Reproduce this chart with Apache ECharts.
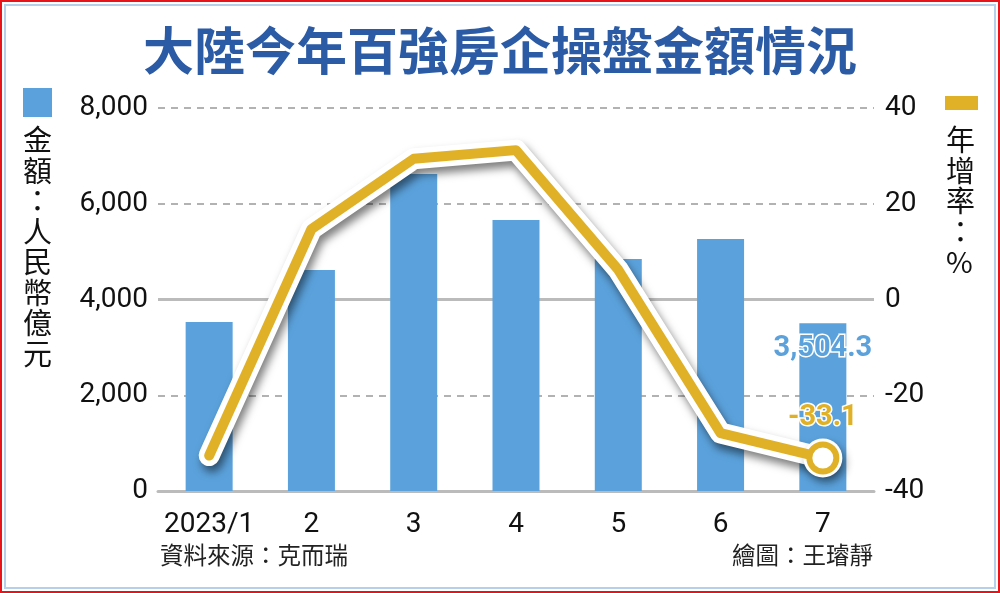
<!DOCTYPE html>
<html>
<head>
<meta charset="utf-8">
<script src="https://cdn.jsdelivr.net/npm/echarts@6/dist/echarts.min.js"></script>
<style>
  html, body { margin: 0; padding: 0; background: #fff; }
  #main { width: 1000px; height: 593px; }
</style>
</head>
<body>
<div id="main"></div>
<script>
// 月份
var months = ["2023/1", "2", "3", "4", "5", "6", "7"];
// 金額：人民幣億元
var amount = [3530, 4615, 6620, 5660, 4845, 5265, 3504.3];
// 年增率：%
var growth = [-32.6, 14.7, 29.4, 31.2, 6.2, -27.9, -33.1];
// 刻度
var leftTicks = [0, 2000, 4000, 6000, 8000];
var rightTicks = [-40, -20, 0, 20, 40];

var blue = "#5ba2dc";
var gold = "#e0b127";
var cjk = '"Noto Sans CJK TC", "Noto Sans CJK SC", sans-serif';
var num = 'Roboto, "Noto Sans", sans-serif';

(function () {
  var myChart = echarts.init(document.getElementById("main"));
  var last = months.length - 1;

  // 金額柱，最後一根加標籤
  var barData = amount.map(function (v, i) {
    if (i !== last) return v;
    return {
      value: v,
      label: {
        show: true,
        position: "insideTop",
        distance: 11,
        formatter: function (p) {
          return p.value.toLocaleString("en-US", { minimumFractionDigits: 1 });
        },
        color: blue,
        fontSize: 29,
        fontWeight: "bold",
        fontFamily: num,
        textBorderColor: "#fff",
        textBorderWidth: 3,
      },
    };
  });

  // 年增率線，最後一點畫空心圈
  var lineData = growth.map(function (v, i) {
    if (i !== last) return v;
    return {
      value: v,
      symbol: "circle",
      symbolSize: 27,
      itemStyle: { color: "#fff", borderColor: gold, borderWidth: 6 },
      label: {
        show: true,
        position: "top",
        distance: 9,
        formatter: "{c}",
        color: gold,
        fontSize: 29,
        fontWeight: "bold",
        fontFamily: num,
        textBorderColor: "#fff",
        textBorderWidth: 3,
      },
    };
  });
  // 白色外框 + 陰影
  var outlineData = growth.map(function (v, i) {
    if (i !== last) return v;
    return {
      value: v,
      symbol: "circle",
      symbolSize: 39,
      itemStyle: {
        color: "#fff",
        shadowBlur: 8,
        shadowColor: "rgba(0,0,0,0.45)",
        shadowOffsetX: 3,
        shadowOffsetY: 5,
      },
    };
  });

  var clear = "rgba(0,0,0,0)";

  var option = {
    animation: false,
    backgroundColor: "#fff",
    title: {
      text: "大陸今年百強房企操盤金額情況",
      left: "center",
      top: 20,
      textStyle: {
        color: "#2c5ba6",
        fontSize: 51,
        fontWeight: "bold",
        fontFamily: cjk,
      },
    },
    grid: { left: 158, right: 126, top: 108, bottom: 102 },
    xAxis: {
      type: "category",
      data: months,
      axisLine: { lineStyle: { color: "#bbb", width: 3 } },
      axisTick: { alignWithLabel: true, length: 8, lineStyle: { color: "#bbb", width: 3 } },
      axisLabel: { color: "#111", fontSize: 28, fontFamily: num, margin: 20, interval: 0 },
    },
    yAxis: [
      {
        type: "value",
        min: 0,
        max: 8000,
        interval: 2000,
        axisLine: { show: false },
        axisTick: { show: false },
        axisLabel: {
          color: "#111",
          fontSize: 28,
          fontFamily: num,
          margin: 10,
          formatter: function (v) { return v.toLocaleString("en-US"); },
        },
        splitLine: {
          lineStyle: {
            type: [7, 6],
            color: ["#999", "#999", clear, "#999", "#999"],
            width: 1.5,
          },
        },
      },
      {
        type: "value",
        min: -40,
        max: 40,
        interval: 20,
        axisLine: { show: false },
        axisTick: { show: false },
        axisLabel: { color: "#111", fontSize: 28, fontFamily: num, margin: 11 },
        // 0 的那條實線
        splitLine: {
          show: true,
          lineStyle: { type: "solid", color: [clear, clear, "#bbb", clear, clear], width: 3 },
        },
      },
    ],
    series: [
      {
        name: "金額",
        type: "bar",
        data: barData,
        barWidth: 47,
        itemStyle: { color: blue },
        z: 2,
      },
      {
        name: "外框",
        type: "line",
        yAxisIndex: 1,
        data: outlineData,
        symbol: "none",
        showSymbol: true,
        silent: true,
        lineStyle: {
          color: "#fff",
          width: 21,
          cap: "round",
          join: "round",
          shadowBlur: 9,
          shadowColor: "rgba(0,0,0,0.5)",
          shadowOffsetX: 3,
          shadowOffsetY: 6,
        },
        z: 3,
      },
      {
        name: "年增率",
        type: "line",
        yAxisIndex: 1,
        data: lineData,
        symbol: "none",
        showSymbol: true,
        lineStyle: { color: gold, width: 10, cap: "round", join: "round" },
        z: 4,
      },
    ],
    graphic: [
      // 外框
      { type: "rect", shape: { x: 1, y: 1, width: 998, height: 591 }, style: { fill: null, stroke: "#e8141c", lineWidth: 2 } },
      { type: "rect", shape: { x: 5, y: 5, width: 990, height: 583 }, style: { fill: null, stroke: "#b7d0ea", lineWidth: 2 } },
      // 左側圖例
      { type: "rect", shape: { x: 23, y: 88, width: 29, height: 29 }, style: { fill: blue } },
      {
        type: "text",
        left: 23,
        top: 125,
        style: {
          text: "金\n額\n：\n人\n民\n幣\n億\n元",
          font: "29px " + cjk,
          lineHeight: 30.5,
          fill: "#111",
        },
      },
      // 右側圖例
      { type: "rect", shape: { x: 945, y: 96, width: 33, height: 14 }, style: { fill: gold } },
      {
        type: "text",
        left: 946,
        top: 125,
        style: {
          text: "年\n增\n率\n：\n%",
          font: "29px " + cjk,
          lineHeight: 30.5,
          fill: "#111",
          align: "center",
        },
      },
      // 來源
      {
        type: "text",
        left: 160,
        top: 543,
        style: { text: "資料來源：克而瑞", font: "23.5px " + cjk, fill: "#222" },
      },
      {
        type: "text",
        right: 127,
        top: 543,
        style: { text: "繪圖：王璿靜", font: "23.5px " + cjk, fill: "#222" },
      },
    ],
  };

  myChart.setOption(option);
  window.addEventListener("resize", function () {
    myChart.resize();
  });
})();
</script>
</body>
</html>
